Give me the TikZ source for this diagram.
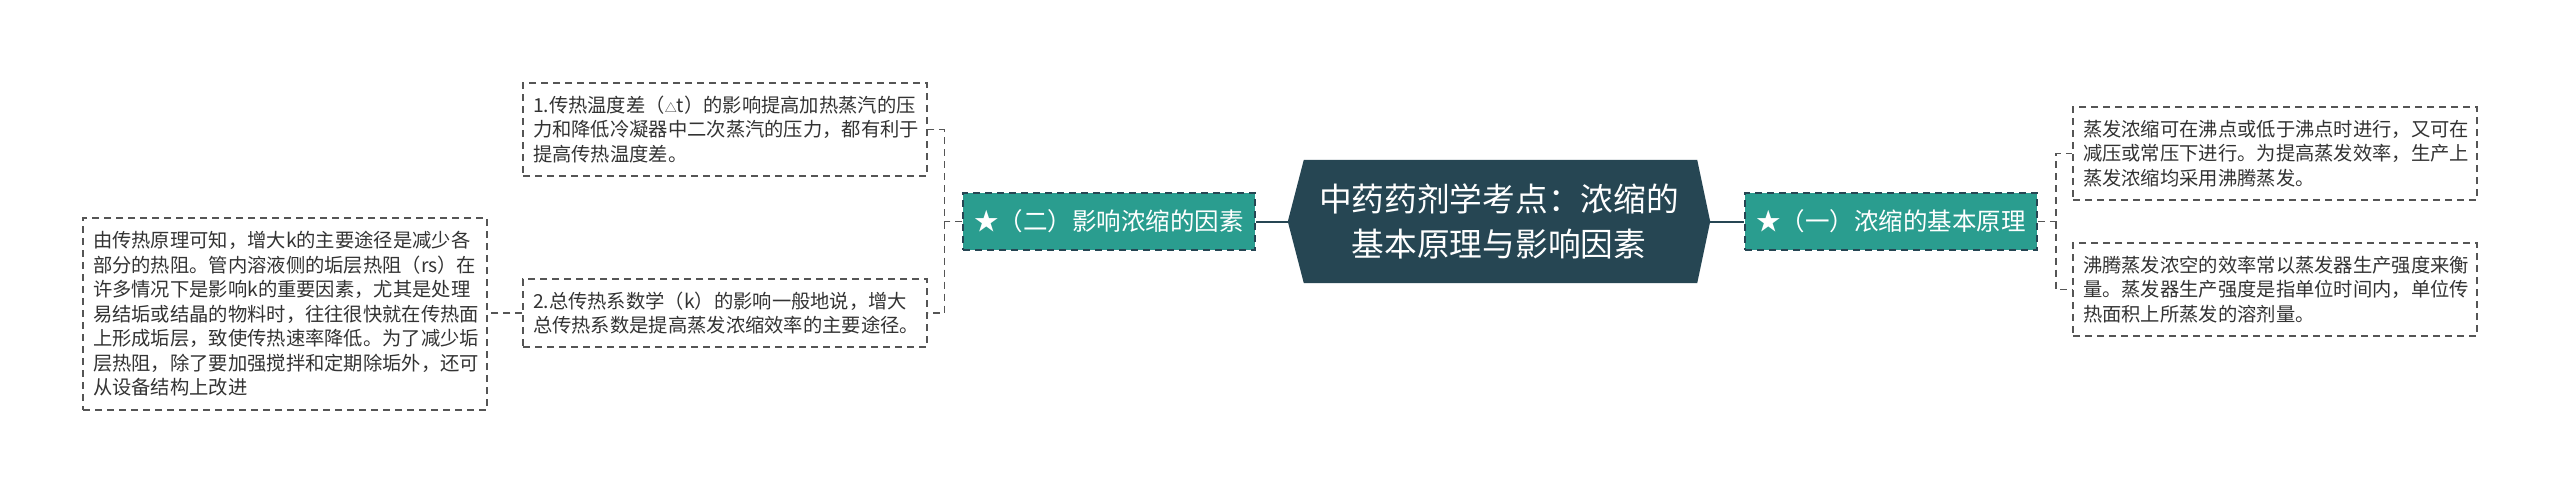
\documentclass[tikz,border=0pt]{standalone}
\usepackage{fontspec}
\setmainfont{Noto Sans CJK SC}
\usetikzlibrary{backgrounds}
\definecolor{dk}{HTML}{264653}
\definecolor{tl}{HTML}{2A9D8F}
\definecolor{tx}{HTML}{333333}
\definecolor{ln}{HTML}{555555}
\tikzset{
  dsh/.style={dash pattern=on 7pt off 5pt, line width=1.5pt},
  leaf/.style={draw=ln, dsh, text=tx, font=\fontsize{19.3}{24.5}\selectfont, align=left,
    text width=384pt, inner xsep=10pt, inner ysep=0pt},
  branch/.style={fill=tl, draw=dk, dsh, text=white, font=\fontsize{24.5}{30}\selectfont,
    minimum width=292pt, minimum height=57pt, inner sep=0pt},
  conn/.style={draw=ln, dsh},
  mainconn/.style={draw=dk, line width=2pt},
}
\begin{document}
\begin{tikzpicture}[x=1pt,y=-1pt]
\useasboundingbox (0,0) rectangle (2560,493);
% central
\node[text=white, font=\fontsize{32.7}{45}\selectfont, align=center, minimum width=422pt, minimum height=123pt, inner sep=0pt] (c) at (1499,221.5) {中药药剂学考点：浓缩的\\基本原理与影响因素};
\begin{scope}[on background layer]
\fill[white] (0,0) rectangle (2560,493);
\fill[dk] (c.west) -- ([xshift=16pt]c.north west) -- ([xshift=-13pt]c.north east) -- (c.east) -- ([xshift=-13pt]c.south east) -- ([xshift=16pt]c.south west) -- cycle;
\end{scope}
% branches
\node[branch] (b1) at (1891,221.5) {★（一）浓缩的基本原理};
\node[branch] (b2) at (1109,221.5) {★（二）影响浓缩的因素};
% leaves right
\node[leaf, minimum height=93pt] (r1) at (2275,153.5) {蒸发浓缩可在沸点或低于沸点时进行，又可在\\减压或常压下进行。为提高蒸发效率，生产上\\蒸发浓缩均采用沸腾蒸发。};
\node[leaf, minimum height=93pt] (r2) at (2275,289.5) {沸腾蒸发浓空的效率常以蒸发器生产强度来衡\\量。蒸发器生产强度是指单位时间内，单位传\\热面积上所蒸发的溶剂量。};
% leaves left
\node[leaf, minimum height=93pt] (l1) at (725,129.5) {1.传热温度差（{\fontsize{12}{12}\selectfont △}t）的影响提高加热蒸汽的压\\力和降低冷凝器中二次蒸汽的压力，都有利于\\提高传热温度差。};
\node[leaf, minimum height=68pt] (l2) at (725,313) {2.总传热系数学（k）的影响一般地说，增大\\总传热系数是提高蒸发浓缩效率的主要途径。};
\node[leaf, minimum height=192pt] (ll) at (285,314) {由传热原理可知，增大k的主要途径是减少各\\部分的热阻。管内溶液侧的垢层热阻（rs）在\\许多情况下是影响k的重要因素，尤其是处理\\易结垢或结晶的物料时，往往很快就在传热面\\上形成垢层，致使传热速率降低。为了减少垢\\层热阻，除了要加强搅拌和定期除垢外，还可\\从设备结构上改进};
% connectors
\draw[mainconn] (c.east) -- (b1.west);
\draw[mainconn] (c.west) -- (b2.east);
\coordinate (jr) at ([xshift=18pt]b1.east);
\coordinate (jl) at ([xshift=-18pt]b2.west);
\draw[conn] (b1.east) -- (jr) |- (r1.west);
\draw[conn] (jr) |- (r2.west);
\draw[conn] (b2.west) -- (jl) |- (l1.east);
\draw[conn] (jl) |- (l2.east);
\draw[conn] (l2.west) -- (l2.west -| ll.east);
\end{tikzpicture}
\end{document}
